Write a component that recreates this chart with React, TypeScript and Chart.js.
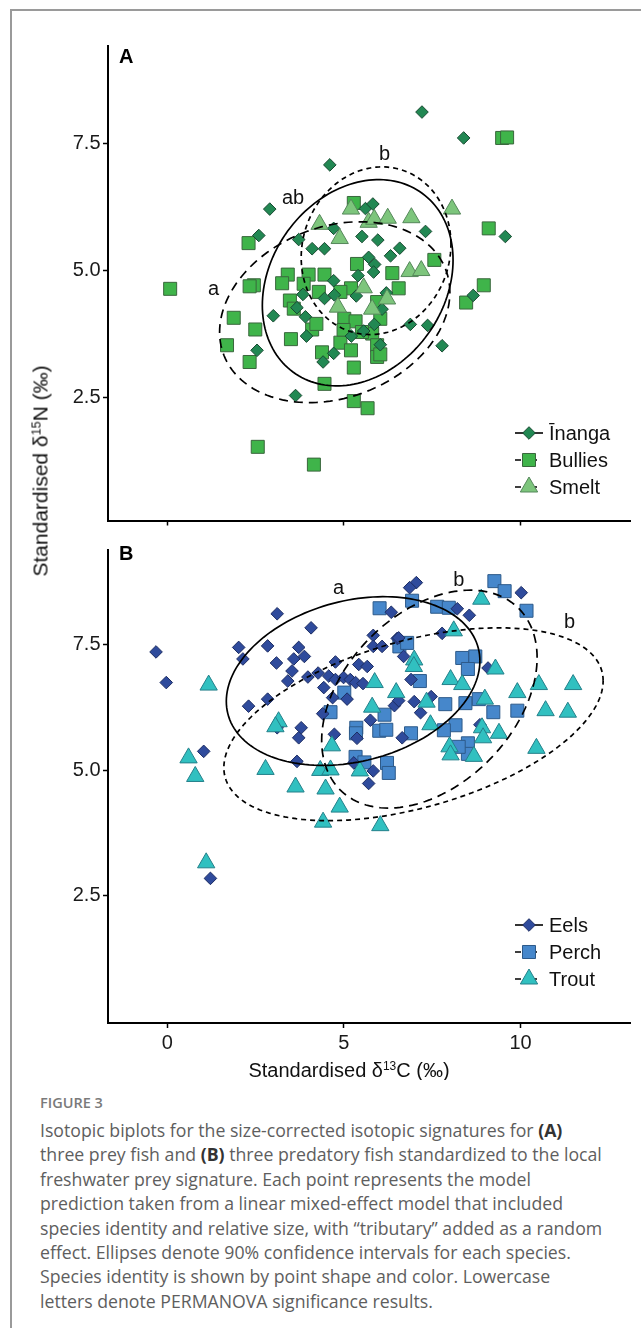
import React, { useEffect, useRef } from "react";
import { Chart, registerables } from "chart.js";

Chart.register(...registerables);

const FONT = "'Liberation Sans', Arial, Helvetica, sans-serif";

// ---------- axes ----------
const xTicks = [0, 5, 10];
const yTicks = [2.5, 5.0, 7.5];
const xMin = -1.68;
const xMax = 13.1;
const yMinA = 0.08;
const yMaxA = 9.42;
const yMinB = -0.03;
const yMaxB = 9.4;

// ---------- Panel A : prey fish ----------
const inangaX = [7.21, 8.39, 4.6, 2.9, 2.59, 9.57, 5.61, 5.82, 7.31, 3.72, 4.1, 4.45, 4.71, 5.51, 5.96, 6.32, 6.58, 5.7, 5.87, 5.84, 5.4, 4.71, 3.84, 4.45, 4.73, 5.35, 3.67, 3.0, 3.91, 6.2, 6.08, 5.56, 5.86, 6.88, 7.37, 8.66, 7.78, 2.54, 3.94, 4.71, 4.41, 5.21, 3.63, 6.03];
const inangaY = [8.12, 7.61, 7.08, 6.21, 5.69, 5.67, 6.22, 6.31, 5.77, 5.61, 5.43, 5.43, 5.83, 5.67, 5.6, 5.29, 5.44, 5.26, 5.12, 4.97, 4.9, 4.8, 4.53, 4.45, 4.52, 4.5, 4.27, 4.11, 4.09, 4.56, 4.24, 3.81, 3.94, 3.94, 3.92, 4.51, 3.52, 3.43, 3.71, 3.37, 3.2, 3.71, 2.54, 3.54];

const bulliesX = [9.48, 9.62, 5.28, 2.3, 9.1, 7.56, 6.37, 5.37, 3.41, 4.0, 4.45, 3.25, 2.45, 2.33, 3.86, 4.29, 5.2, 4.9, 6.55, 8.96, 8.46, 3.47, 3.58, 1.88, 2.49, 1.69, 2.33, 3.5, 4.1, 4.22, 5.01, 5.33, 4.99, 5.8, 6.03, 5.94, 4.9, 5.2, 4.38, 5.94, 6.03, 5.28, 4.45, 5.28, 5.67, 2.56, 4.15, 0.08, 5.94, 5.51];
const bulliesY = [7.61, 7.62, 6.33, 5.54, 5.83, 5.21, 4.95, 5.13, 4.92, 4.92, 4.92, 4.75, 4.71, 4.69, 4.74, 4.58, 4.65, 4.58, 4.65, 4.71, 4.37, 4.41, 4.25, 4.07, 3.84, 3.53, 3.2, 3.65, 3.84, 3.95, 4.05, 4.0, 3.83, 3.76, 4.05, 3.53, 3.58, 3.43, 3.39, 3.3, 3.35, 3.09, 2.77, 2.43, 2.29, 1.53, 1.18, 4.64, 4.38, 3.79];

const smeltX = [5.2, 8.06, 4.31, 4.88, 5.7, 5.86, 6.24, 6.91, 6.86, 7.19, 5.56, 4.83, 5.8, 6.22];
const smeltY = [6.21, 6.21, 5.91, 5.63, 5.95, 6.01, 6.03, 6.04, 4.98, 5.0, 4.66, 4.28, 4.24, 4.44];

// 90% ellipses, order: Inanga, Bullies, Smelt (centre, half-extents, x-y coupling)
const ellA_cx = [5.39, 4.74, 5.91];
const ellA_cy = [4.76, 4.18, 5.39];
const ellA_rx = [2.7, 3.26, 2.12];
const ellA_ry = [2.03, 1.78, 1.65];
const ellA_corr = [0.22, 0.22, 0.08];

const lettersA = ["a", "ab", "b"];
const lettersA_x = [1.31, 3.56, 6.15];
const lettersA_y = [4.63, 6.42, 7.29];

// ---------- Panel B : predatory fish ----------
const eelsX = [-0.32, -0.03, 1.03, 1.22, 3.11, 4.07, 2.02, 2.14, 2.84, 3.09, 3.72, 3.58, 3.88, 3.53, 3.41, 3.98, 4.27, 4.76, 4.57, 4.76, 4.99, 5.18, 5.33, 5.54, 5.42, 5.66, 5.83, 5.83, 6.08, 6.34, 4.43, 4.68, 5.09, 2.84, 2.3, 3.11, 3.79, 3.72, 4.73, 4.4, 3.67, 5.28, 5.83, 5.7, 5.37, 5.75, 6.43, 6.51, 7.05, 6.86, 10.02, 8.21, 8.55, 7.78, 6.55, 6.69, 9.08, 6.9, 6.55, 6.99, 7.47, 7.17, 6.65, 8.85];
const eelsY = [7.36, 6.75, 5.38, 2.85, 8.12, 7.84, 7.45, 7.22, 7.48, 7.14, 7.45, 7.22, 7.27, 6.98, 6.78, 6.86, 6.94, 7.16, 6.88, 6.81, 6.85, 6.81, 6.75, 6.73, 7.11, 7.07, 7.69, 7.47, 7.47, 8.15, 6.65, 6.45, 6.42, 6.42, 6.28, 5.85, 5.85, 5.65, 5.72, 6.13, 5.18, 5.15, 4.99, 4.74, 5.64, 6.0, 6.29, 7.63, 8.74, 8.64, 8.54, 8.22, 8.09, 7.73, 7.64, 7.27, 7.04, 6.81, 6.39, 6.37, 6.47, 6.15, 5.65, 5.91];

const perchX = [6.01, 5.01, 4.62, 6.15, 6.0, 6.2, 5.35, 5.34, 5.33, 5.58, 6.22, 6.27, 6.57, 9.26, 9.55, 10.17, 6.93, 7.64, 7.97, 6.79, 8.35, 8.72, 8.51, 7.15, 7.87, 8.44, 8.82, 9.23, 9.91, 8.16, 7.83, 6.9, 8.51, 8.51, 8.25];
const perchY = [8.23, 6.55, 6.16, 6.11, 5.79, 5.81, 5.85, 5.74, 5.27, 5.16, 5.15, 4.95, 7.47, 8.77, 8.57, 8.18, 8.38, 8.26, 8.24, 7.54, 7.24, 7.27, 7.02, 6.78, 6.32, 6.34, 6.42, 6.16, 6.19, 5.9, 5.8, 5.74, 5.54, 5.33, 5.47];

const troutX = [1.17, 0.6, 0.79, 1.1, 3.15, 3.06, 2.78, 3.63, 4.33, 4.62, 4.48, 4.66, 4.88, 4.41, 6.03, 5.87, 5.8, 5.45, 6.48, 8.89, 8.11, 6.99, 9.29, 8.02, 8.35, 10.52, 11.49, 9.91, 10.71, 11.34, 7.45, 7.34, 8.99, 8.91, 9.39, 8.94, 7.99, 8.02, 8.68, 10.45, 6.98];
const troutY = [6.7, 5.25, 4.88, 3.16, 5.97, 5.87, 5.02, 4.67, 5.0, 5.01, 4.63, 5.49, 4.27, 3.97, 3.9, 6.75, 6.26, 4.99, 6.55, 8.41, 7.78, 7.2, 7.02, 6.81, 6.71, 6.71, 6.71, 6.55, 6.19, 6.16, 5.91, 6.36, 6.42, 5.85, 5.74, 5.65, 5.47, 5.31, 5.28, 5.44, 7.07];

// ellipses, order: Eels, Perch, Trout
const ellB_cx = [5.26, 7.42, 6.97];
const ellB_cy = [6.78, 6.42, 5.92];
const ellB_rx = [3.59, 3.05, 5.37];
const ellB_ry = [1.68, 2.17, 1.92];
const ellB_corr = [0.24, 0.38, 0.45];

const lettersB = ["a", "b", "b"];
const lettersB_x = [4.85, 8.25, 11.39];
const lettersB_y = [8.63, 8.78, 7.95];

// ---------- styles ----------
type Sty = { name: string; shape: string; r: number; fill: string; stroke: string; dash: number[] };

const stylesA: Sty[] = [
  { name: "Īnanga", shape: "rectRot", r: 6.3, fill: "#228853", stroke: "#184a31", dash: [] },
  { name: "Bullies", shape: "rect", r: 9.2, fill: "#3fb44a", stroke: "#3a673d", dash: [9, 6] },
  { name: "Smelt", shape: "triangle", r: 10, fill: "#7dc57c", stroke: "#55875a", dash: [5, 4] },
];
const stylesB: Sty[] = [
  { name: "Eels", shape: "rectRot", r: 6.3, fill: "#2f4b9c", stroke: "#1d2d63", dash: [] },
  { name: "Perch", shape: "rect", r: 9.2, fill: "#4687cb", stroke: "#2d5a8a", dash: [9, 6] },
  { name: "Trout", shape: "triangle", r: 10, fill: "#31c0c0", stroke: "#24808a", dash: [5, 4] },
];

function pts(xs: number[], ys: number[]) {
  return xs.map((x, i) => ({ x, y: ys[i] }));
}

function drawMarker(ctx: CanvasRenderingContext2D, s: Sty, x: number, y: number) {
  ctx.beginPath();
  const r = s.r;
  if (s.shape === "rectRot") {
    ctx.moveTo(x - r, y);
    ctx.lineTo(x, y - r);
    ctx.lineTo(x + r, y);
    ctx.lineTo(x, y + r);
  } else if (s.shape === "rect") {
    const h = Math.SQRT1_2 * r;
    ctx.rect(x - h, y - h, 2 * h, 2 * h);
  } else {
    const a = (2 * Math.PI) / 3;
    ctx.moveTo(x, y - r);
    ctx.lineTo(x + Math.sin(a) * r, y - Math.cos(a) * r);
    ctx.lineTo(x + Math.sin(2 * a) * r, y - Math.cos(2 * a) * r);
  }
  ctx.closePath();
  ctx.fillStyle = s.fill;
  ctx.strokeStyle = s.stroke;
  ctx.lineWidth = 1;
  ctx.setLineDash([]);
  ctx.fill();
  ctx.stroke();
}

type Panel = {
  styles: Sty[];
  series: { x: number[]; y: number[] }[];
  ell: { cx: number[]; cy: number[]; rx: number[]; ry: number[]; corr: number[] };
  letters: string[];
  lx: number[];
  ly: number[];
  label: string;
  labelY: number;
  legendY: number[];
  xTitleY: number | null;
};

function overlay(p: Panel) {
  return {
    id: "overlay",
    afterDatasetsDraw(chart: any) {
      const ctx: CanvasRenderingContext2D = chart.ctx;
      const xs = chart.scales.x;
      const ys = chart.scales.y;
      ctx.save();
      // ellipses
      ctx.strokeStyle = "#000";
      ctx.lineWidth = 1.7;
      p.styles.forEach((s, i) => {
        const d = Math.acos(p.ell.corr[i]);
        ctx.setLineDash(s.dash);
        ctx.beginPath();
        const n = 160;
        for (let k = 0; k <= n; k++) {
          const t = (k / n) * Math.PI * 2;
          const px = xs.getPixelForValue(p.ell.cx[i] + p.ell.rx[i] * Math.cos(t));
          const py = ys.getPixelForValue(p.ell.cy[i] + p.ell.ry[i] * Math.cos(t - d));
          if (k === 0) ctx.moveTo(px, py);
          else ctx.lineTo(px, py);
        }
        ctx.stroke();
      });
      ctx.setLineDash([]);
      // significance letters
      ctx.fillStyle = "#111";
      ctx.font = `20px ${FONT}`;
      ctx.textAlign = "center";
      ctx.textBaseline = "middle";
      p.letters.forEach((t, i) => {
        ctx.fillText(t, xs.getPixelForValue(p.lx[i]), ys.getPixelForValue(p.ly[i]));
      });
      // panel label
      ctx.font = `bold 20px ${FONT}`;
      ctx.textAlign = "left";
      ctx.fillStyle = "#000";
      ctx.fillText(p.label, 119, p.labelY);
      // legend
      p.styles.forEach((s, i) => {
        const y = p.legendY[i];
        ctx.strokeStyle = "#000";
        ctx.lineWidth = 1.6;
        ctx.setLineDash(s.dash.length ? [6, 10] : []);
        ctx.beginPath();
        ctx.moveTo(515, y);
        ctx.lineTo(543, y);
        ctx.stroke();
        drawMarker(ctx, s, 529, y);
        ctx.fillStyle = "#111";
        ctx.font = `20px ${FONT}`;
        ctx.textAlign = "left";
        ctx.textBaseline = "middle";
        ctx.fillText(s.name, 549, y + 1);
      });
      // x axis title (bottom panel)
      if (p.xTitleY !== null) {
        const parts = [
          { t: "Standardised δ", sup: false },
          { t: "13", sup: true },
          { t: "C (‰)", sup: false },
        ];
        const fMain = `20px ${FONT}`;
        const fSup = `12px ${FONT}`;
        let w = 0;
        parts.forEach((q) => {
          ctx.font = q.sup ? fSup : fMain;
          w += ctx.measureText(q.t).width;
        });
        let x = 349 - w / 2;
        ctx.textBaseline = "alphabetic";
        ctx.textAlign = "left";
        ctx.fillStyle = "#111";
        parts.forEach((q) => {
          ctx.font = q.sup ? fSup : fMain;
          ctx.fillText(q.t, x, p.xTitleY! - (q.sup ? 7 : 0));
          x += ctx.measureText(q.t).width;
        });
      }
      ctx.restore();
    },
  };
}

function makeConfig(p: Panel, ymin: number, ymax: number, canvasH: number, top: number, bottom: number, showX: boolean): any {
  return {
    type: "scatter",
    data: {
      datasets: p.styles.map((s, i) => ({
        label: s.name,
        data: pts(p.series[i].x, p.series[i].y),
        pointStyle: s.shape,
        pointRadius: s.r,
        pointHoverRadius: s.r,
        backgroundColor: s.fill,
        borderColor: s.stroke,
        pointBorderWidth: 1,
        order: [1, 2, 0][i],
      })),
    },
    options: {
      responsive: false,
      animation: false,
      events: [],
      layout: { padding: { left: 0, right: 11, top, bottom: 0 } },
      plugins: { legend: { display: false }, tooltip: { enabled: false } },
      scales: {
        x: {
          type: "linear",
          min: xMin,
          max: xMax,
          afterBuildTicks: (s: any) => {
            s.ticks = xTicks.map((v) => ({ value: v }));
          },
          afterFit: (s: any) => {
            s.height = canvasH - bottom;
          },
          ticks: {
            display: showX,
            font: { family: FONT, size: 20 },
            color: "#1a1a1a",
            padding: 3,
            maxRotation: 0,
            callback: (v: any) => String(v),
          },
          grid: { drawOnChartArea: false, drawTicks: true, tickLength: 5, tickColor: "#000", tickWidth: 1.5 },
          border: { display: true, color: "#000", width: 2 },
        },
        y: {
          type: "linear",
          min: ymin,
          max: ymax,
          afterBuildTicks: (s: any) => {
            s.ticks = yTicks.map((v) => ({ value: v }));
          },
          afterFit: (s: any) => {
            s.width = 108;
          },
          ticks: {
            font: { family: FONT, size: 20 },
            color: "#1a1a1a",
            padding: 2.5,
            callback: (v: any) => Number(v).toFixed(1),
          },
          grid: { drawOnChartArea: false, drawTicks: true, tickLength: 5, tickColor: "#000", tickWidth: 1.5 },
          border: { display: true, color: "#000", width: 2 },
        },
      },
    },
    plugins: [overlay(p)],
  };
}

const panelA: Panel = {
  styles: stylesA,
  series: [
    { x: inangaX, y: inangaY },
    { x: bulliesX, y: bulliesY },
    { x: smeltX, y: smeltY },
  ],
  ell: { cx: ellA_cx, cy: ellA_cy, rx: ellA_rx, ry: ellA_ry, corr: ellA_corr },
  letters: lettersA,
  lx: lettersA_x,
  ly: lettersA_y,
  label: "A",
  labelY: 57,
  legendY: [433, 460, 487],
  xTitleY: null,
};

const B_TOP = 535;
const panelB: Panel = {
  styles: stylesB,
  series: [
    { x: eelsX, y: eelsY },
    { x: perchX, y: perchY },
    { x: troutX, y: troutY },
  ],
  ell: { cx: ellB_cx, cy: ellB_cy, rx: ellB_rx, ry: ellB_ry, corr: ellB_corr },
  letters: lettersB,
  lx: lettersB_x,
  ly: lettersB_y,
  label: "B",
  labelY: 554 - B_TOP,
  legendY: [925 - B_TOP, 952 - B_TOP, 979 - B_TOP],
  xTitleY: 1077 - B_TOP,
};

const captionLines: { t: string; b?: boolean }[][] = [
  [{ t: "Isotopic biplots for the size-corrected isotopic signatures for " }, { t: "(A)", b: true }],
  [{ t: "three prey fish and " }, { t: "(B)", b: true }, { t: " three predatory fish standardized to the local" }],
  [{ t: "freshwater prey signature. Each point represents the model" }],
  [{ t: "prediction taken from a linear mixed-effect model that included" }],
  [{ t: "species identity and relative size, with “tributary” added as a random" }],
  [{ t: "effect. Ellipses denote 90% confidence intervals for each species." }],
  [{ t: "Species identity is shown by point shape and color. Lowercase" }],
  [{ t: "letters denote PERMANOVA significance results." }],
];

export default function App() {
  const refA = useRef<HTMLCanvasElement>(null);
  const refB = useRef<HTMLCanvasElement>(null);

  useEffect(() => {
    const a = new Chart(refA.current as HTMLCanvasElement, makeConfig(panelA, yMinA, yMaxA, 535, 46, 523, false));
    const b = new Chart(refB.current as HTMLCanvasElement, makeConfig(panelB, yMinB, yMaxB, 545, 541 - B_TOP, 1023 - B_TOP, true));
    return () => {
      a.destroy();
      b.destroy();
    };
  }, []);

  return (
    <div style={{ position: "absolute", left: 0, top: 0, width: 641, height: 1328, background: "#fff", overflow: "hidden" }}>
      <div
        style={{
          position: "absolute",
          left: 10,
          top: 9,
          width: 700,
          height: 1400,
          borderLeft: "2px solid #9a9a9a",
          borderTop: "2px solid #9a9a9a",
        }}
      />
      <canvas ref={refA} width={641} height={535} style={{ position: "absolute", left: 0, top: 0, width: 641, height: 535 }} />
      <canvas ref={refB} width={641} height={545} style={{ position: "absolute", left: 0, top: B_TOP, width: 641, height: 545 }} />
      <div
        style={{
          position: "absolute",
          left: 42,
          top: 471,
          transform: "translate(-50%, -50%) rotate(-90deg)",
          whiteSpace: "nowrap",
          fontFamily: FONT,
          fontSize: 21,
          color: "#111",
          lineHeight: "24px",
        }}
      >
        Standardised δ<span style={{ fontSize: 12.5, position: "relative", top: -7 }}>15</span>N (‰)
      </div>
      <div
        style={{
          position: "absolute",
          left: 40,
          top: 1093,
          fontFamily: "'Open Sans', sans-serif",
          fontSize: 14.5,
          fontWeight: 600,
          color: "#7a7a7a",
          lineHeight: "20px",
          whiteSpace: "nowrap",
        }}
      >
        FIGURE 3
      </div>
      <div
        style={{
          position: "absolute",
          left: 40,
          top: 1118,
          fontFamily: "'Open Sans', sans-serif",
          fontSize: 17.7,
          color: "#5e5e5e",
          lineHeight: "24.4px",
          whiteSpace: "nowrap",
        }}
      >
        {captionLines.map((line, i) => (
          <div key={i}>
            {line.map((seg, j) => (
              <span key={j} style={seg.b ? { fontWeight: 700, color: "#333" } : undefined}>
                {seg.t}
              </span>
            ))}
          </div>
        ))}
      </div>
    </div>
  );
}
